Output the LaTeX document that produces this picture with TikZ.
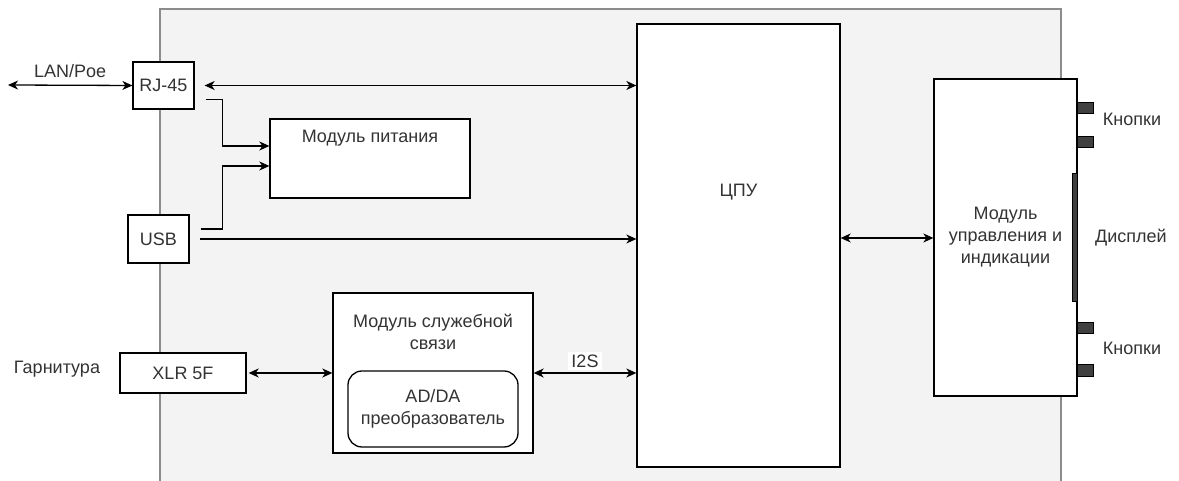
\documentclass[tikz,border=0pt]{standalone}
\usepackage{fontspec}
\setmainfont{Liberation Sans}
\usetikzlibrary{arrows.meta, positioning}
\definecolor{panelgray}{HTML}{F3F3F3}
\definecolor{txtgray}{HTML}{333333}
\definecolor{knob}{HTML}{404040}

\tikzset{
  box/.style = {draw, fill=white, line width=1.3pt, inner sep=0pt, align=center},
  wire/.style = {line width=1.3pt},
  tip/.style = {-{Stealth[length=10pt, width=9pt, inset=3pt]}},
  tips/.style = {{Stealth[length=10pt, width=9pt, inset=3pt]}-{Stealth[length=10pt, width=9pt, inset=3pt]}},
  knobbox/.style = {draw=black, fill=knob, line width=0.8pt}
}

\begin{document}
\begin{tikzpicture}[x=1pt, y=1pt, font=\fontsize{18}{22}\selectfont, text=txtgray]
\useasboundingbox (0,0) rectangle (1179,481);
% corpus
\draw[fill=panelgray, draw=gray!90, line width=1.5pt] (160,-20) rectangle (1061,472);

\node[box, minimum width=61, minimum height=47] (rj) at (163.5,395.5) {RJ-45};
\node[box, minimum width=61, minimum height=48] (usb) at (158.5,242) {USB};
\node[box, minimum width=126, minimum height=40] (xlr) at (183,108) {XLR 5F};
\node[box, minimum width=200, minimum height=79] (pwr) at (370,322.5) {};
\node at ([yshift=-20]pwr.north) {Модуль питания};
\node[box, minimum width=200, minimum height=160] (com) at (433,108) {};
\node[align=center] at ([yshift=-40]com.north) {Модуль служебной\\связи};
\node[box, rounded corners=14pt, minimum width=170, minimum height=76] (ad) at (433,72) {AD/DA\\преобразователь};
\node[box, minimum width=203, minimum height=443] (cpu) at (738.5,235.5) {};
\node at ([yshift=-169]cpu.north) {ЦПУ};
\node[box, minimum width=143, minimum height=317] (mgmt) at (1005.5,243.5) {Модуль\\управления и\\индикации};

% knopki i displej
\draw[knobbox] (1077,368) rectangle (1093,379);
\draw[knobbox] (1077,334) rectangle (1093,345);
\draw[knobbox] (1077,148) rectangle (1093,159);
\draw[knobbox] (1077,105) rectangle (1093,117);
\draw[knobbox] (1072,180) rectangle (1077,308);
\node (kn1) at (1132,362) {Кнопки};
\node (disp) at (1131,243) {Дисплей};
\node (kn2) at (1132,133) {Кнопки};

% connectors
\coordinate (lan) at (8,396);
\draw[wire, tips] (lan) -- (rj.west) node[above, midway, yshift=4pt] {LAN/Poe};
\node (head) at (57,112) {Гарнитура};
\draw[wire, tips, shorten <=10pt] (rj.east) -- (rj.east -| cpu.west);
\coordinate (p1) at ([yshift=12.5]pwr.west);
\coordinate (p2) at ([yshift=-7.5]pwr.west);
\draw[wire, tip] ([shift={(11,-14)}]rj.east) -| ([xshift=-47]p1) -- (p1);
\draw[wire, tip] ([shift={(11,10)}]usb.east) -| ([xshift=-47]p2) -- (p2);
\draw[wire, tip, shorten <=10pt] (usb.east) -- (usb.east -| cpu.west);
\draw[wire, tips, shorten <=2pt] (xlr.east) -- (com.west);
\draw[wire, tips] (com.east) -- (com.east -| cpu.west) node[midway, above, fill=white, inner sep=3pt, yshift=2pt] {I2S};
\draw[wire, tips] (mgmt.west |- 0,243) -- (cpu.east |- 0,243);
\end{tikzpicture}
\end{document}
